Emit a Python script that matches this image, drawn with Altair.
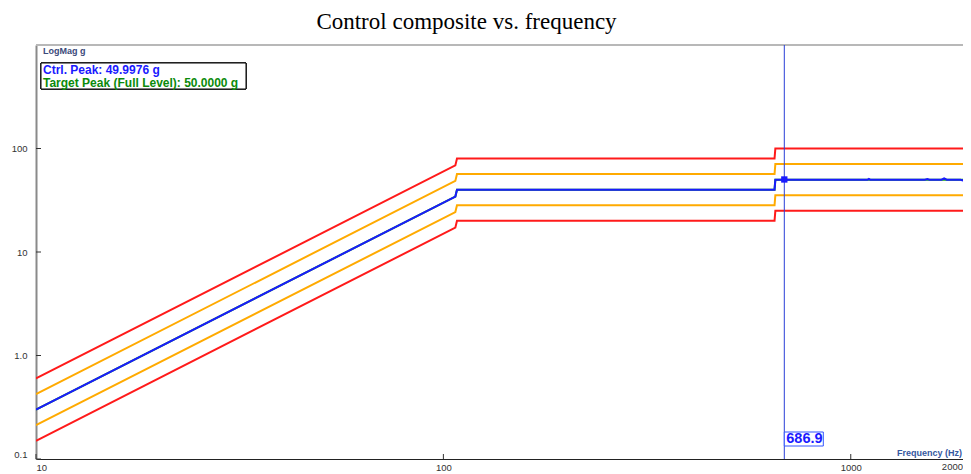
import altair as alt
import pandas as pd

# ---------------- data ----------------
title_text = "Control composite vs. frequency"

prof_freq = [10, 107, 108, 650, 653, 2000]
upper_abort = [0.6, 68.7, 80, 80, 100, 100]
upper_alarm = [0.424, 48.6, 56.6, 56.6, 70.7, 70.7]
target = [0.3, 34.3, 40, 40, 50, 50]
lower_alarm = [0.212, 24.3, 28.3, 28.3, 35.4, 35.4]
lower_abort = [0.15, 17.2, 20, 20, 25, 25]

ctrl_freq = [10, 107, 108, 650, 653, 686.9, 1100, 1108, 1116, 1520, 1542,
             1560, 1670, 1695, 1720, 1860, 1880, 1900, 1960, 2000]
ctrl_val = [0.3, 34.3, 40, 40, 50, 50, 50, 50.8, 50, 50, 50.8,
            50, 50, 51.5, 50, 50, 49.2, 50, 50.3, 50.3]

cursor_freq = [686.9]
cursor_val = [50.2]
cursor_label = ["686.9"]

x_max_visible = 1886          # right edge of the visible window
x_ticks = [10, 100, 1000]
x_last_label = ["2000"]       # label at the right edge
y_ticks = [0.1, 1, 10, 100]

legend_ctrl = "Ctrl. Peak: 49.9976 g"
legend_target = "Target Peak (Full Level): 50.0000 g"
y_label = "LogMag g"
x_label = "Frequency (Hz)"

# ---------------- tables ----------------
limit_series = [("Upper abort", upper_abort), ("Upper alarm", upper_alarm),
                ("Lower abort", lower_abort), ("Lower alarm", lower_alarm),
                ("Target", target)]
rows = []
for name, vals in limit_series:
    for f, v in zip(prof_freq, vals):
        rows.append({"series": name, "freq": f, "g": v})
limits_df = pd.DataFrame(rows)
ctrl_df = pd.DataFrame({"freq": ctrl_freq, "g": ctrl_val})
cursor_df = pd.DataFrame({"freq": cursor_freq, "g": cursor_val, "label": cursor_label})
xt_df = pd.DataFrame({"freq": x_ticks})
yt_df = pd.DataFrame({"g": y_ticks})

W, H = 927, 414
FONT = "Liberation Sans"

xscale = alt.Scale(type="log", domain=[10, x_max_visible], nice=False)
yscale = alt.Scale(type="log", domain=[0.1, 1000], nice=False)

xaxis = alt.Axis(values=x_ticks, format="d", labelFlush=True, ticks=False, grid=False,
                 labelFont=FONT, labelFontSize=9.5, labelColor="#333333", labelPadding=3,
                 domainColor="#222222", domainWidth=1, title=None)
yaxis = alt.Axis(values=y_ticks, labelFlush=True, ticks=False, grid=False,
                 labelExpr="datum.value >= 10 ? format(datum.value, 'd') : format(datum.value, '.1f')",
                 labelFont=FONT, labelFontSize=9.5, labelColor="#333333", labelPadding=9,
                 domainColor="#8a8a8a", domainWidth=2, title=None)


def X(field="freq"):
    return alt.X(f"{field}:Q", scale=xscale, axis=xaxis)


def Y(field="g"):
    return alt.Y(f"{field}:Q", scale=yscale, axis=yaxis)


color_scale = alt.Scale(
    domain=["Upper abort", "Upper alarm", "Lower abort", "Lower alarm", "Target"],
    range=["#ff1a1a", "#ffaa00", "#ff1a1a", "#ffaa00", "#11a011"])

limits = alt.Chart(limits_df).mark_line(strokeWidth=2, clip=True).encode(
    x=X(), y=Y(),
    color=alt.Color("series:N", scale=color_scale, legend=None),
    order=alt.Order("freq:Q"),
)

ctrl = alt.Chart(ctrl_df).mark_line(strokeWidth=2, color="#1a1aff", clip=True).encode(
    x=X(), y=Y())

top_border = alt.Chart(xt_df).mark_rule(color="#b8b8b8", strokeWidth=2).encode(
    x=alt.value(0), x2=alt.value(W), y=alt.value(0))

xticks = alt.Chart(xt_df).mark_rule(color="#333333", strokeWidth=1).encode(
    x=X(), y=alt.value(H), y2=alt.value(H - 5))
yticks = alt.Chart(yt_df).mark_rule(color="#333333", strokeWidth=1).encode(
    y=Y(), x=alt.value(0), x2=alt.value(5))

last_lbl_df = pd.DataFrame({"t": x_last_label})
x_last = alt.Chart(last_lbl_df).mark_text(align="right", baseline="top", font=FONT,
                                          fontSize=9.5, color="#333333").encode(
    x=alt.value(W), y=alt.value(H + 3), text="t:N")

cursor_line = alt.Chart(cursor_df).mark_rule(color="#2a3fd8", strokeWidth=1).encode(
    x=X(), y=alt.value(0), y2=alt.value(H))
cursor_dot = alt.Chart(cursor_df).mark_square(size=40, color="#1a1aff", opacity=1).encode(
    x=X(), y=Y())
cursor_box = alt.Chart(cursor_df).mark_rect(fill="white", stroke="#3355ff", strokeWidth=1,
                                            x2Offset=39).encode(
    x=X(), x2="freq:Q", y=alt.value(H - 27), y2=alt.value(H - 13))
cursor_text = alt.Chart(cursor_df).mark_text(align="left", baseline="middle", dx=2,
                                             font=FONT, fontSize=14.5, fontWeight="bold",
                                             color="#1a1aff").encode(
    x=X(), y=alt.value(H - 20), text="label:N")

leg_box = alt.Chart(xt_df).mark_rect(fill="white", stroke="black", strokeWidth=1).encode(
    x=alt.value(5), x2=alt.value(210), y=alt.value(18), y2=alt.value(44))
leg_df = pd.DataFrame({"a": [legend_ctrl], "b": [legend_target]})
leg_text1 = alt.Chart(leg_df).mark_text(align="left", baseline="middle", font=FONT,
                                        fontSize=12, fontWeight="bold",
                                        color="#1a1aff").encode(
    x=alt.value(7), y=alt.value(25), text="a:N")
leg_text2 = alt.Chart(leg_df).mark_text(align="left", baseline="middle", font=FONT,
                                        fontSize=12, fontWeight="bold",
                                        color="#0a8a0a").encode(
    x=alt.value(7), y=alt.value(37.5), text="b:N")

lbl_df = pd.DataFrame({"ty": [y_label], "tx": [x_label]})
ylab = alt.Chart(lbl_df).mark_text(align="left", baseline="middle", font=FONT, fontSize=9,
                                   fontWeight="bold", color="#3b4a7a").encode(
    x=alt.value(7), y=alt.value(5.5), text="ty:N")
xlab = alt.Chart(lbl_df).mark_text(align="right", baseline="middle", font=FONT, fontSize=9,
                                   fontWeight="bold", color="#3558a0").encode(
    x=alt.value(W - 1), y=alt.value(H - 6), text="tx:N")

chart = alt.layer(
    limits, ctrl, top_border, xticks, yticks, x_last, cursor_line, cursor_dot,
    cursor_box, cursor_text, leg_box, leg_text1, leg_text2, ylab, xlab
).properties(
    width=W, height=H,
    title=alt.TitleParams(title_text, font="Liberation Serif", fontSize=23,
                          fontWeight="normal", color="black", anchor="middle",
                          dx=-33, dy=23, baseline="alphabetic", offset=15),
    autosize="none",
    padding={"left": 28, "top": 37, "right": 0, "bottom": 14},
).configure_view(stroke=None)

chart.save("out.html", embed_options={"renderer": "svg", "actions": False})
